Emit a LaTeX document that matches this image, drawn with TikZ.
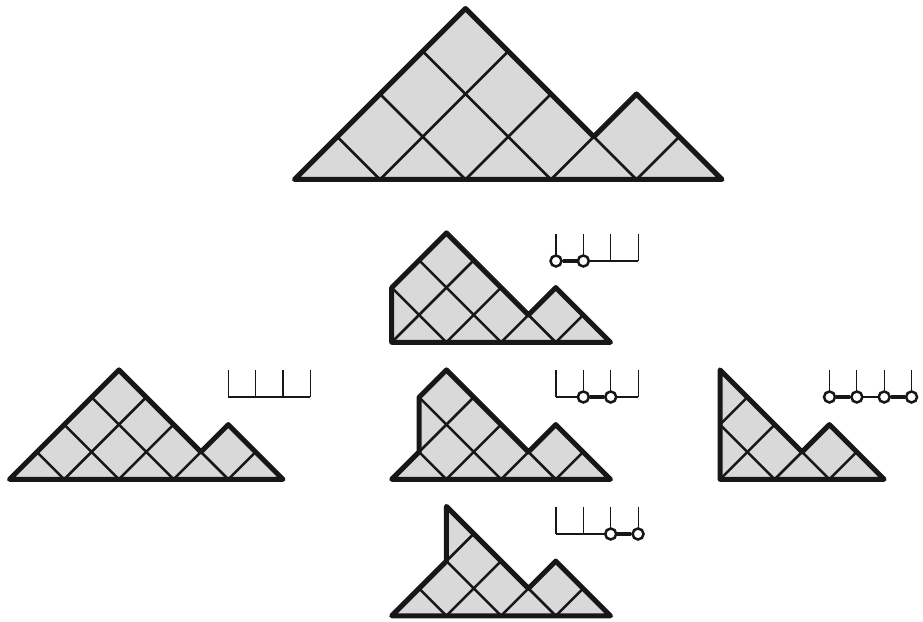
\documentclass[tikz,border=0pt]{standalone}
\usepackage{tikz}

\definecolor{cellgray}{gray}{0.85}
\definecolor{inkline}{gray}{0.09}

\tikzset{
  outline/.style={draw=inkline,line width=5pt,line cap=round,line join=round},
  cellline/.style={draw=inkline,line width=2.5pt},
  combline/.style={draw=inkline,line width=1.1pt},
  linkline/.style={draw=inkline,line width=3.6pt},
  hole/.style={circle,draw=inkline,fill=white,line width=2.5pt,minimum size=11pt,inner sep=0pt},
}

% #1 left x, #2 base y, #3 unit, #4 region outline
\newcommand{\mountain}[4]{
  \begin{scope}[shift={(#1,#2)},x=#3pt,y=#3pt]
    \fill[cellgray] #4 -- cycle;
    \begin{scope}
      \clip #4 -- cycle;
      \foreach \k in {1,...,6}
        \draw[cellline] (2*\k,0) -- ++(-5,5) (2*\k-2,0) -- ++(5,5);
    \end{scope}
    \draw[outline] #4 -- cycle;
  \end{scope}
}

% #1 name, #2 left x, #3 base y
\newcommand{\comb}[3]{
  \foreach \i in {0,...,3} {
    \coordinate (#1t\i) at (#2+27.35*\i,#3+27);
    \coordinate (#1b\i) at (#2+27.35*\i,#3);
    \draw[combline] (#1t\i) -- (#1b\i);
  }
  \draw[combline] (#1b0) -- (#1b3);
}

\begin{document}
\begin{tikzpicture}[x=1pt,y=1pt]
  \useasboundingbox (0,0) rectangle (923,621);

  % top
  \mountain{294.5}{441.5}{42.75}{(0,0) -- (4,4) -- (7,1) -- (8,2) -- (10,0)}

  % start
  \mountain{9.5}{141.7}{27.35}{(0,0) -- (4,4) -- (7,1) -- (8,2) -- (10,0)}
  \comb{s}{228.3}{224}

  % middle column
  \mountain{337}{278.7}{27.35}{(2,0) -- (2,2) -- (4,4) -- (7,1) -- (8,2) -- (10,0)}
  \comb{p}{556}{360}
  \node[hole] (p0) at (pb0) {};
  \node[hole] (p1) at (pb1) {};
  \draw[linkline] (p0) -- (p1);

  \mountain{337}{141.7}{27.35}{(2,0) -- (3,1) -- (3,3) -- (4,4) -- (7,1) -- (8,2) -- (10,0)}
  \comb{q}{556}{224}
  \node[hole] (q1) at (qb1) {};
  \node[hole] (q2) at (qb2) {};
  \draw[linkline] (q1) -- (q2);

  \mountain{337}{5.2}{27.35}{(2,0) -- (4,2) -- (4,4) -- (7,1) -- (8,2) -- (10,0)}
  \comb{r}{556}{87}
  \node[hole] (r2) at (rb2) {};
  \node[hole] (r3) at (rb3) {};
  \draw[linkline] (r2) -- (r3);

  % right
  \mountain{610.6}{141.7}{27.35}{(4,0) -- (4,4) -- (7,1) -- (8,2) -- (10,0)}
  \comb{u}{829.5}{224}
  \node[hole] (u0) at (ub0) {};
  \node[hole] (u1) at (ub1) {};
  \node[hole] (u2) at (ub2) {};
  \node[hole] (u3) at (ub3) {};
  \draw[linkline] (u0) -- (u1);
  \draw[linkline] (u2) -- (u3);
\end{tikzpicture}
\end{document}
